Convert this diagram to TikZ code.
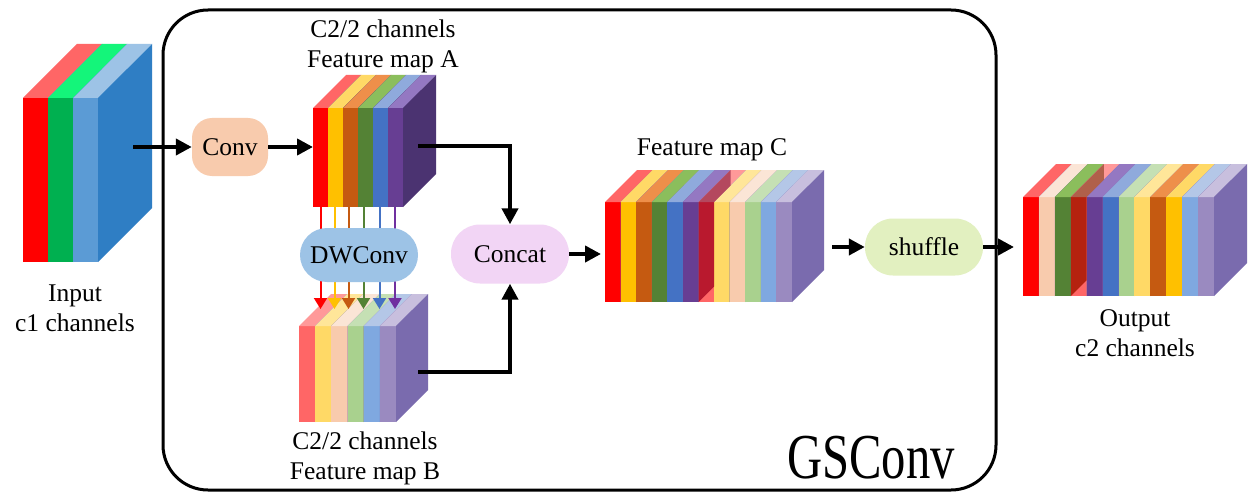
\documentclass[tikz,border=0pt]{standalone}
\usepackage{fontspec}
\setmainfont{Liberation Serif}
\usetikzlibrary{arrows.meta}
\definecolor{cRed}{HTML}{FF0000}\definecolor{cRedT}{HTML}{FF6666}
\definecolor{cGrn}{HTML}{00B050}\definecolor{cGrnT}{HTML}{14F57A}
\definecolor{cLb}{HTML}{5B9BD5}\definecolor{cLbT}{HTML}{9DC3E6}
\definecolor{cInSide}{HTML}{2F7EC4}
\definecolor{cYel}{HTML}{FFC000}\definecolor{cYelT}{HTML}{FFD966}
\definecolor{cOra}{HTML}{C55A11}\definecolor{cOraT}{HTML}{EE8F4A}
\definecolor{cGre}{HTML}{548235}\definecolor{cGreT}{HTML}{8BBE5C}
\definecolor{cBlu}{HTML}{4472C4}\definecolor{cBluT}{HTML}{8FAADC}
\definecolor{cPur}{HTML}{673E93}\definecolor{cPurT}{HTML}{9478C2}
\definecolor{cASide}{HTML}{4B3371}
\definecolor{pRed}{HTML}{FF6666}\definecolor{pRedT}{HTML}{FF9999}
\definecolor{pYel}{HTML}{FFD966}\definecolor{pYelT}{HTML}{FFE699}
\definecolor{pPea}{HTML}{F8CBAD}\definecolor{pPeaT}{HTML}{FBE5D6}
\definecolor{pGre}{HTML}{A9D18E}\definecolor{pGreT}{HTML}{C5E0B4}
\definecolor{pBlu}{HTML}{7FA8E0}\definecolor{pBluT}{HTML}{B4C7E7}
\definecolor{pLav}{HTML}{9A8AC0}\definecolor{pLavT}{HTML}{C8BFDE}
\definecolor{cBSide}{HTML}{7A6BAE}
\definecolor{crim}{HTML}{B9192E}\definecolor{crimT}{HTML}{B4485E}
\definecolor{dkred}{HTML}{B5220F}\definecolor{dkredT}{HTML}{B0604A}
\definecolor{arrPurple}{HTML}{7030A0}
\definecolor{convFill}{HTML}{F8CBAD}
\definecolor{dwFill}{HTML}{9DC3E6}
\definecolor{catFill}{HTML}{F2D5F5}
\definecolor{shufFill}{HTML}{E2F0C0}
% x0, top, bottom, slice width, depth, side colour, list of front/top colours
\newcommand{\featblock}[7]{%
  \foreach \fc/\tc [count=\i from 0] in {#7}{%
    \pgfmathsetmacro\xa{#1+\i*#4}%
    \pgfmathsetmacro\xb{#1+(\i+1)*#4}%
    \fill[\fc] (\xa,#2) rectangle (\xb,#3);
    \fill[\tc] (\xa,#2) -- (\xb,#2) -- (\xb+#5,#2-#5) -- (\xa+#5,#2-#5) -- cycle;
    \fill[#6] (\xb,#2) -- (\xb+#5,#2-#5) -- (\xb+#5,#3-#5) -- (\xb,#3) -- cycle;
  }}
% x, top, bottom, w, d, front colour, top colour
\newcommand{\overslab}[7]{%
  \fill[#6] (#1,#2) -- (#1+#4,#2) -- (#1+#4,#3-#4) -- (#1,#3) -- cycle;
  \fill[#7] (#1,#2) -- (#1+#4,#2) -- (#1+#5,#2-#5+#4) -- (#1+#5,#2-#5) -- cycle;}
\tikzset{
  lbl/.style={font=\fontsize{25.5}{28}\selectfont, inner sep=0pt, align=center},
  opbox/.style={lbl, inner sep=0pt},
  arr/.style={line width=4pt, -{Triangle[length=16pt,width=16pt]}},
  carr/.style={line width=2pt, -{Triangle[length=11pt,width=13pt]}},
  frame/.style={line width=3pt, rounded corners=45pt}
}
\begin{document}
\begin{tikzpicture}[x=1pt,y=-1pt]
\useasboundingbox (0,0) rectangle (1255,500);
\fill[white] (0,0) rectangle (1255,500);
% GSConv frame
\draw[frame] (163,10) rectangle (996,490);
\node[font=\fontsize{64}{64}\selectfont, inner sep=0pt] (gs) at (871,458) {\scalebox{0.76}[1]{GSConv}};
% input block
\featblock{23}{98}{262}{25}{54}{cInSide}{cRed/cRedT,cGrn/cGrnT,cLb/cLbT}
\node[lbl] (inlbl) at (75,308) {Input\\[2pt]c1 channels};
% feature map A
\featblock{313}{108}{207}{15}{33}{cASide}{cRed/cRedT,cYel/cYelT,cOra/cOraT,cGre/cGreT,cBlu/cBluT,cPur/cPurT}
\node[lbl] (albl) at (383,46) {C2/2 channels\\[2pt]Feature map A};
% feature map B
\featblock{299}{326}{422}{16.17}{32}{cBSide}{pRed/pRedT,pYel/pYelT,pPea/pPeaT,pGre/pGreT,pBlu/pBluT,pLav/pLavT}
\node[lbl] (blbl) at (365,458) {C2/2 channels\\[2pt]Feature map B};
% feature map C
\featblock{605}{202}{302}{15.583}{32}{cBSide}{cRed/cRedT,cYel/cYelT,cOra/cOraT,cGre/cGreT,cBlu/cBluT,cPur/cPurT,pRed/pRedT,pYel/pYelT,pPea/pPeaT,pGre/pGreT,pBlu/pBluT,pLav/pLavT}
\overslab{698.5}{202}{302}{15.583}{32}{crim}{crimT}
\node[lbl] (clbl) at (712,150) {Feature map C};
% output block
\featblock{1023}{197}{296}{15.917}{33}{cBSide}{cRed/cRedT,pPea/pPeaT,cGre/cGreT,pRed/pRedT,cPur/cPurT,cBlu/cBluT,pGre/pGreT,pYel/pYelT,cOra/cOraT,cYel/cYelT,pBlu/pBluT,pLav/pLavT}
\overslab{1070.75}{197}{296}{15.917}{33}{dkred}{dkredT}
\node[lbl] (outlbl) at (1135,333) {Output\\[2pt]c2 channels};
% coloured DWConv arrows
\foreach \xc/\cc [count=\k] in {320.5/cRed,334.5/cYel,348.5/cOra,363.5/cGre,379.5/cBlu,395/arrPurple}{
  \coordinate (a\k) at (\xc,207);
  \coordinate (b\k) at (\xc,309);
  \draw[carr,\cc] (a\k) -- (b\k);
}
% operation nodes
\node[opbox, fill=dwFill, rounded corners=27pt, minimum width=118pt, minimum height=54pt] (dw) at (359,255) {DWConv};
\node[opbox, fill=convFill, rounded corners=20pt, minimum width=76pt, minimum height=58pt] (conv) at (230,147) {Conv};
\node[opbox, fill=catFill, rounded corners=29pt, minimum width=118pt, minimum height=59pt] (cat) at (510,254) {Concat};
\node[opbox, fill=shufFill, rounded corners=28pt, minimum width=118pt, minimum height=57pt] (shuf) at (924,247) {shuffle};
% anchor points on the blocks
\coordinate (inout) at (133,147);
\coordinate (ain) at (313,147);
\coordinate (aout) at (418,146);
\coordinate (bout) at (418,372);
\coordinate (cin) at (601,254);
\coordinate (cout) at (832,247);
\coordinate (oin) at (1014,247);
% black arrows
\draw[arr] (inout) -- (conv.west);
\draw[arr] (conv.east) -- (ain);
\draw[arr] (aout) -| (cat.north);
\draw[arr] (bout) -| (cat.south);
\draw[arr] (cat.east) -- (cin);
\draw[arr] (cout) -- (shuf.west);
\draw[arr] (shuf.east) -- (oin);
\end{tikzpicture}
\end{document}
